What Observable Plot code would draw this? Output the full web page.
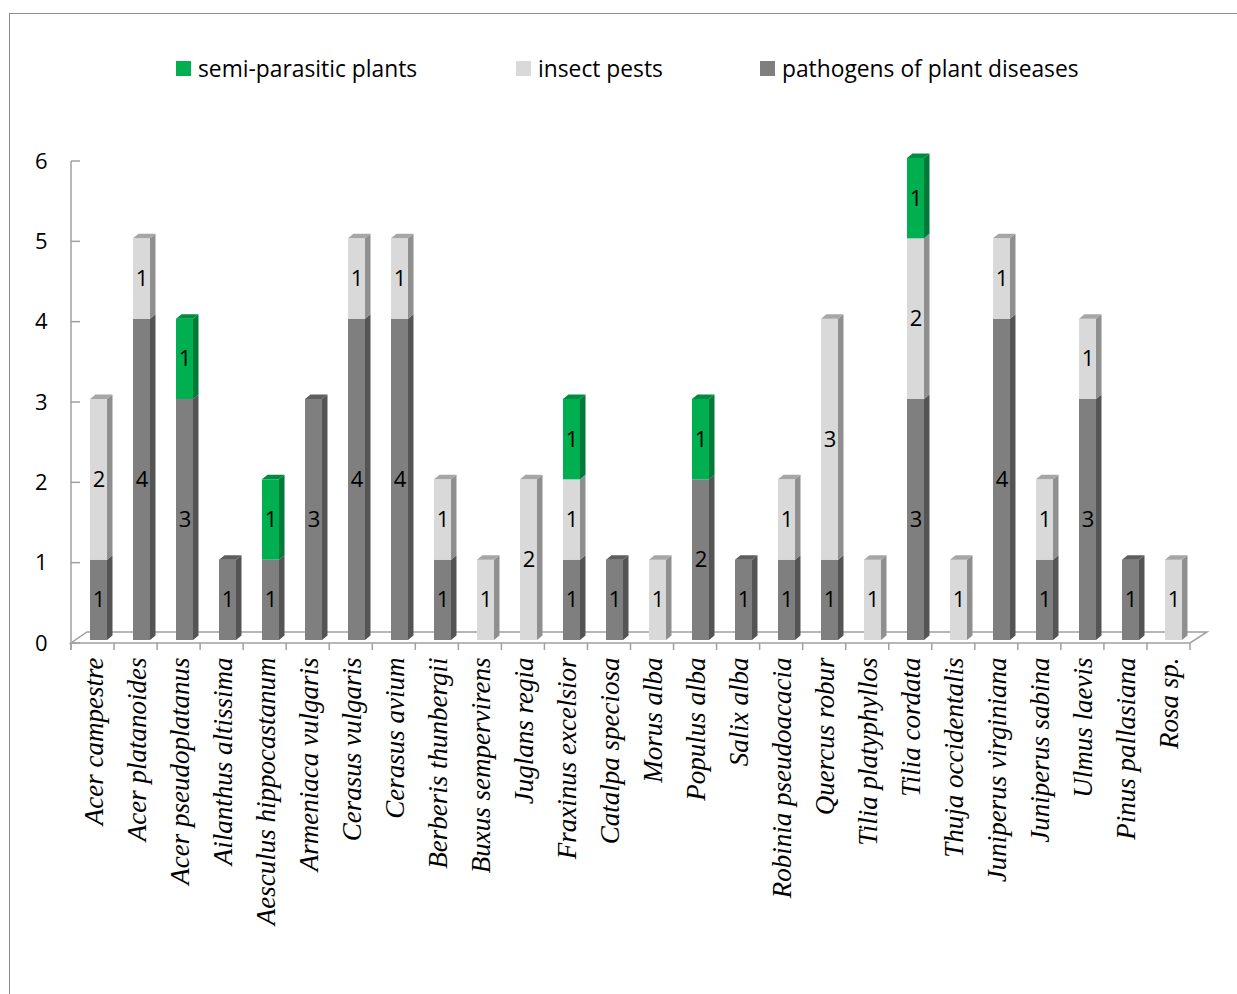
<!DOCTYPE html>
<html><head><meta charset="utf-8">
<script src="https://cdn.jsdelivr.net/npm/d3@7"></script>
<script src="https://cdn.jsdelivr.net/npm/@observablehq/plot@0.6"></script>
<style>
body{margin:0;background:#fff;overflow:hidden;width:1237px;height:994px;position:relative;}
#frame{position:absolute;left:9px;top:13px;width:1300px;height:1100px;border:1.5px solid #8c8c8c;box-sizing:border-box;}
#chart{position:absolute;left:0;top:0;}
.leg{position:absolute;top:56px;height:24px;font-family:"Open Sans",Lato,sans-serif;font-size:22.8px;display:flex;align-items:center;color:#000;white-space:nowrap;}
.sw{width:15px;height:15px;margin-right:7px;flex:none;}
g[aria-label="x-axis tick label"]{font-family:"Liberation Serif","Times New Roman",serif;font-style:italic;font-size:27px;}
</style></head><body>
<div id="frame"></div>
<div id="chart"></div>
<div id="legend"></div>
<script>
const species = ["Acer campestre","Acer platanoides","Acer pseudoplatanus","Ailanthus altissima","Aesculus hippocastanum","Armeniaca vulgaris","Cerasus vulgaris","Cerasus avium","Berberis thunbergii","Buxus sempervirens","Juglans regia","Fraxinus excelsior","Catalpa speciosa","Morus alba","Populus alba","Salix alba","Robinia pseudoacacia","Quercus robur","Tilia platyphyllos","Tilia cordata","Thuja occidentalis","Juniperus virginiana","Juniperus sabina","Ulmus laevis","Pinus pallasiana","Rosa sp."];
const seriesNames = ["pathogens of plant diseases","insect pests","semi-parasitic plants"];
const pathogens = [1,4,3,1,1,3,4,4,1,0,0,1,1,0,2,1,1,1,0,3,0,4,1,3,1,0];
const insectPests = [2,1,0,0,0,0,1,1,1,1,2,1,0,1,0,0,1,3,1,2,1,1,1,1,0,1];
const semiParasitic = [0,0,1,0,1,0,0,0,0,0,0,1,0,0,1,0,0,0,0,1,0,0,0,0,0,0];
const frontColors = ["#7f7f7f","#d9d9d9","#00b050"];
const sideColors = ["#545454","#8f8f8f","#007a38"];
const topColors = ["#5e5e5e","#a6a6a6","#008c40"];
const yTicks = [0,1,2,3,4,5,6];
const legendOrder = ["semi-parasitic plants","insect pests","pathogens of plant diseases"];

const seriesValues = [pathogens, insectPests, semiParasitic];
const data = [];
species.forEach((sp, i) => {
  let lastIdx = -1;
  seriesValues.forEach((vals, s) => {
    if (vals[i] > 0) { data.push({species: sp, series: seriesNames[s], s, value: vals[i], top: false}); lastIdx = data.length - 1; }
  });
  if (lastIdx >= 0) data[lastIdx].top = true;
});

const DX = 5.5, DY = 4.5;
function bars3d(index, scales, values, dimensions, context, next) {
  const g = next(index, scales, values, dimensions, context);
  const ns = "http://www.w3.org/2000/svg";
  const rects = Array.from(g.querySelectorAll("rect"));
  rects.forEach(r => {
    const i = r.__data__;
    const d = data[i];
    if (!d) return;
    const x = +r.getAttribute("x"), y = +r.getAttribute("y"), w = +r.getAttribute("width"), h = +r.getAttribute("height");
    const side = document.createElementNS(ns, "polygon");
    side.setAttribute("points", `${x+w},${y+h} ${x+w+DX},${y+h-DY} ${x+w+DX},${y-DY} ${x+w},${y}`);
    side.setAttribute("fill", sideColors[d.s]);
    r.parentNode.appendChild(side);
    if (d.top) {
      const top = document.createElementNS(ns, "polygon");
      top.setAttribute("points", `${x},${y} ${x+DX},${y-DY} ${x+w+DX},${y-DY} ${x+w},${y}`);
      top.setAttribute("fill", topColors[d.s]);
      r.parentNode.appendChild(top);
    }
  });
  return g;
}

function floorAndAxes(index, scales, values, dimensions) {
  const {width, marginLeft, marginRight} = dimensions;
  const y0 = scales.y(0);
  const L = marginLeft, R = width - marginRight;
  const g = d3.create("svg:g").attr("fill", "none").attr("stroke", "#a0a0a0").attr("stroke-width", 1.5);
  g.append("path").attr("d", `M${L},${y0+3}H${R}L${R+17},${y0-8}H${L+16}Z`);
  g.append("path").attr("d", `M${L},${scales.y(yTicks[yTicks.length-1])+3}V${y0+10}`);
  yTicks.forEach(v => g.append("path").attr("d", `M${L},${scales.y(v)+3}h9`));
  const bw = (R - L) / species.length;
  for (let k = 0; k <= species.length; k++) g.append("path").attr("d", `M${L + k*bw},${y0+3}V${y0+10}`);
  return g.node();
}

const plot = Plot.plot({
  width: 1237,
  height: 994,
  marginLeft: 71,
  marginRight: 47,
  marginTop: 158,
  marginBottom: 354,
  style: {fontFamily: "'Open Sans', Lato, sans-serif", fontSize: "22px", background: "transparent", overflow: "visible", color: "#000"},
  x: {type: "band", domain: species, padding: 0, label: null},
  y: {domain: [0, 6], label: null},
  color: {domain: seriesNames, range: frontColors},
  marks: [
    Plot.ruleY([0], {render: floorAndAxes}),
    Plot.axisY({ticks: yTicks, tickSize: 0, tickPadding: 24, dy: 3, fontSize: 22, label: null, tickFormat: d => String(d)}),
    Plot.axisX({tickRotate: -90, tickSize: 0, tickPadding: 17, fontSize: 27, fontFamily: "Liberation Serif", fontStyle: "italic", label: null}),
    Plot.barY(data, {x: "species", y: "value", z: "series", fill: "series", insetLeft: 18, insetRight: 8, render: bars3d}),
    Plot.text(data, Plot.stackY({x: "species", y: "value", z: "series", text: d => String(d.value), dx: 5, fontSize: 22, fill: "#000"}))
  ]
});
document.getElementById("chart").appendChild(plot);

const legendX = {"semi-parasitic plants": 176, "insect pests": 516, "pathogens of plant diseases": 760};
const leg = document.getElementById("legend");
legendOrder.forEach(name => {
  const item = document.createElement("div");
  item.className = "leg";
  item.style.left = legendX[name] + "px";
  const sw = document.createElement("div");
  sw.className = "sw";
  sw.style.background = frontColors[seriesNames.indexOf(name)];
  const t = document.createElement("span");
  t.textContent = name;
  item.appendChild(sw); item.appendChild(t);
  leg.appendChild(item);
});
</script>
</body></html>
